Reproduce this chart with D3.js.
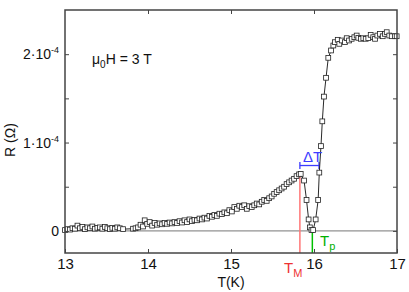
<!DOCTYPE html>
<html><head><meta charset="utf-8">
<script src="https://cdn.jsdelivr.net/npm/d3@7"></script>
<style>body{margin:0;background:#fff}svg{display:block}text{font-family:"Liberation Sans",Arial,sans-serif}</style>
</head><body>
<script>
// Temperature (K)
const temperature = [13.00,13.03,13.06,13.09,13.12,13.15,13.18,13.21,13.24,13.27,13.30,13.33,13.36,13.39,13.42,13.45,13.48,13.51,13.54,13.57,13.60,13.63,13.66,13.70,
13.82,13.85,13.88,13.91,13.94,13.96,13.99,14.02,14.05,14.08,14.11,14.14,14.17,14.20,14.23,14.26,14.29,14.32,14.35,14.38,14.41,14.44,14.47,14.50,14.53,14.56,14.59,14.62,14.65,14.68,14.71,14.74,14.77,14.80,14.83,14.86,14.89,14.92,14.95,14.98,15.01,15.04,15.07,15.10,15.13,15.16,15.19,15.22,15.25,15.28,15.31,15.34,15.37,15.40,15.43,15.46,15.49,15.52,15.55,15.58,15.61,15.64,15.67,15.70,15.73,15.76,15.79,15.82,15.84,
15.88,15.91,15.935,15.95,15.97,15.99,16.02,16.05,16.064,16.084,16.10,16.12,16.145,16.172,16.205,16.233,16.253,16.286,16.305,16.334,16.373,16.394,16.422,16.454,16.486,16.514,16.534,16.566,16.594,16.623,16.654,16.683,16.714,16.735,16.763,16.795,16.828,16.855,16.876,16.907,16.936,16.976,16.996];
// Resistance in units of 1e-4 Ohm
const resistance = [0.01,0.02,0.015,0.03,0.025,0.06,0.03,0.045,0.02,0.04,0.03,0.05,0.025,0.035,0.04,0.025,0.045,0.03,0.02,0.035,0.025,0.04,0.03,0.02,
0.025,0.03,0.04,0.07,0.05,0.12,0.08,0.10,0.06,0.09,0.07,0.085,0.075,0.09,0.08,0.095,0.085,0.10,0.09,0.11,0.095,0.12,0.10,0.13,0.11,0.125,0.12,0.14,0.13,0.15,0.14,0.17,0.16,0.18,0.17,0.195,0.19,0.21,0.20,0.235,0.22,0.27,0.25,0.285,0.27,0.29,0.25,0.28,0.27,0.29,0.31,0.30,0.33,0.35,0.34,0.37,0.39,0.42,0.44,0.46,0.48,0.50,0.53,0.55,0.57,0.59,0.62,0.64,0.645,
0.57,0.35,0.13,0.04,0.01,0.01,0.13,0.35,0.66,0.96,1.24,1.52,1.733,1.959,2.042,2.098,2.136,2.163,2.117,2.155,2.136,2.181,2.155,2.174,2.192,2.211,2.185,2.174,2.181,2.174,2.181,2.219,2.192,2.174,2.211,2.230,2.203,2.230,2.249,2.211,2.203,2.203,2.203];
const xTicks = [13,14,15,16,17];
const yTicksMajor = [0,1,2];
const yTickLabels = ["0","1·10","2·10"];
const yTicksMinor = [0.5,1.5];
const T_M = 15.83, T_p = 15.98, T_right = 16.06, deltaT_R = 0.74, peakR = 0.645;

const W=409,H=292, m={l:65,r:12,t:10,b:39};
const svg=d3.select("body").append("svg").attr("width",W).attr("height",H);
const x=d3.scaleLinear().domain([13,17]).range([m.l,W-m.r]);
const y=d3.scaleLinear().domain([-0.25,2.5]).range([H-m.b,m.t]);
const axCol="#444";

// zero line
svg.append("line").attr("x1",x(13)).attr("x2",x(17)).attr("y1",y(0)).attr("y2",y(0)).attr("stroke","#777").attr("stroke-width",1);

// annotation lines
svg.append("line").attr("x1",x(T_M)).attr("x2",x(T_M)).attr("y1",y(peakR)).attr("y2",y(-0.25)).attr("stroke","#f77").attr("stroke-width",1.5);
svg.append("line").attr("x1",x(T_p)).attr("x2",x(T_p)).attr("y1",y(0)).attr("y2",y(-0.25)).attr("stroke","#00c000").attr("stroke-width",1.5);
const bl="#3c3cff";
svg.append("line").attr("x1",x(T_M)).attr("x2",x(T_right)).attr("y1",y(deltaT_R)).attr("y2",y(deltaT_R)).attr("stroke",bl).attr("stroke-width",1.3);
[T_M,T_right].forEach(t=>svg.append("line").attr("x1",x(t)).attr("x2",x(t)).attr("y1",y(deltaT_R)-3.5).attr("y2",y(deltaT_R)+3.5).attr("stroke",bl).attr("stroke-width",1.3));

// data
const pts=temperature.map((t,i)=>[t,resistance[i]]);
svg.append("path").datum(pts).attr("fill","none").attr("stroke","#111").attr("stroke-width",0.9)
  .attr("d",d3.line().x(d=>x(d[0])).y(d=>y(d[1])));
svg.selectAll("rect.pt").data(pts).enter().append("rect").attr("class","pt")
  .attr("x",d=>x(d[0])-2.4).attr("y",d=>y(d[1])-2.4).attr("width",4.8).attr("height",4.8)
  .attr("fill","#fff").attr("stroke","#222").attr("stroke-width",0.8);

// frame
svg.append("rect").attr("x",x(13)).attr("y",y(2.5)).attr("width",x(17)-x(13)).attr("height",y(-0.25)-y(2.5))
  .attr("fill","none").attr("stroke",axCol).attr("stroke-width",1.5);

// axes ticks
const xb=d3.axisBottom(x).tickValues(xTicks).tickSizeInner(-4).tickSizeOuter(0).tickPadding(5).tickFormat(d3.format("d"));
const gx=svg.append("g").attr("transform",`translate(0,${y(-0.25)})`).call(xb);
gx.select(".domain").remove();
gx.selectAll("line").attr("stroke",axCol);
gx.selectAll("text").attr("font-size",15).attr("fill","#111").attr("font-family","Liberation Sans, Arial, sans-serif");
const xt=d3.axisTop(x).tickValues(xTicks.slice(1,-1)).tickSizeInner(-4).tickSizeOuter(0).tickFormat("");
const gxt=svg.append("g").attr("transform",`translate(0,${y(2.5)})`).call(xt);
gxt.select(".domain").remove(); gxt.selectAll("line").attr("stroke",axCol);

const yl=d3.axisLeft(y).tickValues(yTicksMajor.concat(yTicksMinor)).tickSizeInner(-4).tickSizeOuter(0).tickFormat("");
const gyl=svg.append("g").attr("transform",`translate(${x(13)},0)`).call(yl);
gyl.select(".domain").remove(); gyl.selectAll("line").attr("stroke",axCol);
const yr=d3.axisRight(y).tickValues(yTicksMajor.concat(yTicksMinor)).tickSizeInner(-4).tickSizeOuter(0).tickFormat("");
const gyr=svg.append("g").attr("transform",`translate(${x(17)},0)`).call(yr);
gyr.select(".domain").remove(); gyr.selectAll("line").attr("stroke",axCol);

// y tick labels
yTicksMajor.forEach((v,i)=>{
  const t=svg.append("text").attr("x",x(13)-6).attr("y",y(v)+5).attr("text-anchor","end").attr("font-size",14).attr("fill","#111");
  t.append("tspan").text(yTickLabels[i]);
  if(v!==0) t.append("tspan").attr("font-size",9).attr("dy",-6).text("-4");
});

// axis titles
svg.append("text").attr("x",x(15)).attr("y",287).attr("text-anchor","middle").attr("font-size",14).attr("fill","#111").text("T(K)");
svg.append("text").attr("transform",`translate(15,${140}) rotate(-90)`).attr("text-anchor","middle").attr("font-size",14).attr("fill","#111").text("R (Ω)");

// field label
const fl=svg.append("text").attr("x",92).attr("y",64).attr("font-size",14).attr("fill","#111");
fl.append("tspan").text("μ");
fl.append("tspan").attr("font-size",10).attr("dy",4).text("0");
fl.append("tspan").attr("dy",-4).text("H = 3 T");

// annotation labels
const tm=svg.append("text").attr("x",284).attr("y",273).attr("font-size",15).attr("fill","#e33");
tm.append("tspan").text("T"); tm.append("tspan").attr("font-size",11).attr("dy",4).text("M");
const tp=svg.append("text").attr("x",320).attr("y",246).attr("font-size",15).attr("fill","#00b000");
tp.append("tspan").text("T"); tp.append("tspan").attr("font-size",11).attr("dy",4).text("p");
svg.append("text").attr("x",303).attr("y",162).attr("font-size",15).attr("fill",bl).text("ΔT");
</script>
</body></html>
